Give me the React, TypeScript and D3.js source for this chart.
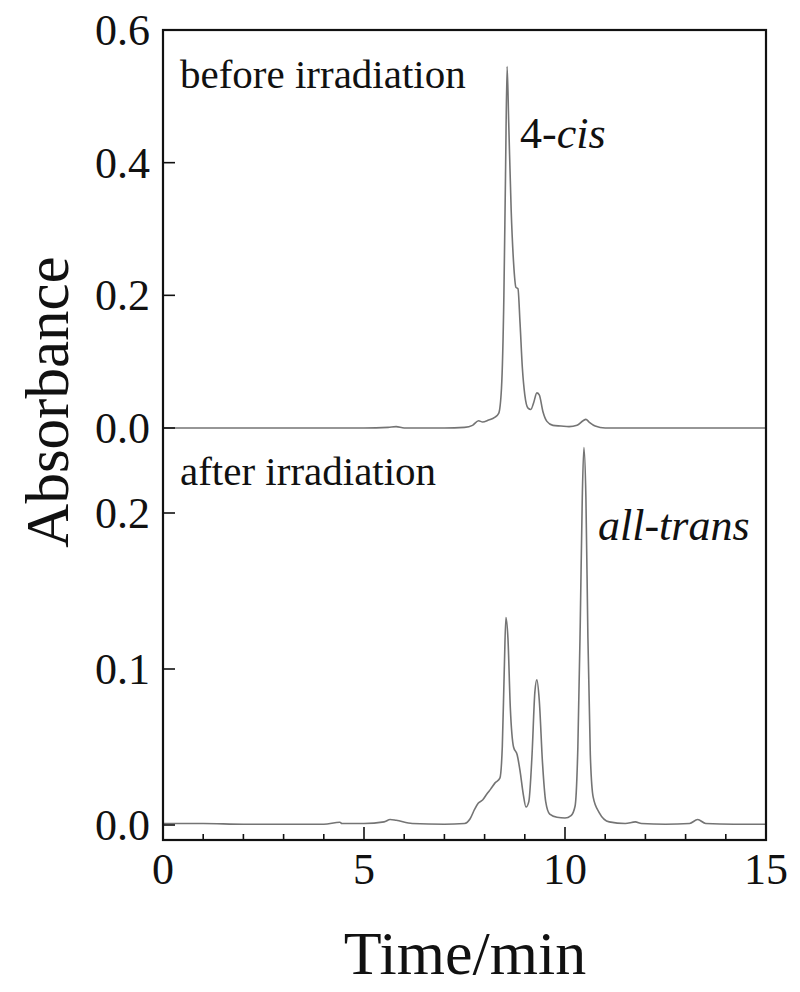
import React from 'react';
import * as d3 from 'd3';

// Chromatogram before irradiation (time in min, absorbance)
const beforeTime = [0, 1, 2, 3, 4, 5, 5.6, 5.8, 6.0, 7.0, 7.5, 7.7, 7.85, 7.95, 8.1, 8.25, 8.35, 8.42, 8.48, 8.52, 8.56, 8.6, 8.66, 8.72, 8.78, 8.83, 8.88, 8.94, 9.0, 9.08, 9.15, 9.22, 9.3, 9.36, 9.45, 9.55, 9.7, 9.9, 10.1, 10.3, 10.45, 10.52, 10.6, 10.75, 11, 12, 13, 14, 15];
const beforeAbs = [0, 0, 0, 0, 0, 0, 0.001, 0.002, 0, 0, 0.001, 0.004, 0.011, 0.009, 0.012, 0.016, 0.022, 0.06, 0.2, 0.38, 0.545, 0.46, 0.33, 0.25, 0.212, 0.21, 0.16, 0.09, 0.05, 0.03, 0.028, 0.038, 0.053, 0.05, 0.025, 0.01, 0.004, 0.003, 0.002, 0.004, 0.011, 0.013, 0.009, 0.003, 0, 0, 0, 0, 0];

// Chromatogram after irradiation
const afterTime = [0, 1, 2, 3, 4, 4.4, 4.45, 4.55, 5.0, 5.5, 5.65, 5.8, 6.2, 7.0, 7.5, 7.64, 7.75, 7.84, 7.95, 8.06, 8.15, 8.26, 8.38, 8.44, 8.49, 8.53, 8.58, 8.64, 8.72, 8.81, 8.88, 8.96, 9.03, 9.1, 9.18, 9.25, 9.3, 9.36, 9.44, 9.52, 9.62, 9.8, 10.0, 10.15, 10.25, 10.32, 10.38, 10.43, 10.47, 10.52, 10.57, 10.63, 10.7, 10.85, 11.1, 11.5, 11.75, 11.9, 12.5, 13.1, 13.3, 13.5, 14.2, 15];
const afterAbs = [0.001, 0.001, 0.0005, 0.0005, 0.0005, 0.0018, 0.001, 0.001, 0.001, 0.002, 0.0035, 0.003, 0.001, 0.0005, 0.001, 0.004, 0.01, 0.014, 0.016, 0.02, 0.023, 0.027, 0.03, 0.05, 0.1, 0.133, 0.12, 0.075, 0.05, 0.045, 0.035, 0.02, 0.0115, 0.015, 0.045, 0.085, 0.093, 0.08, 0.04, 0.015, 0.007, 0.005, 0.0045, 0.006, 0.012, 0.05, 0.13, 0.21, 0.242, 0.21, 0.12, 0.045, 0.018, 0.008, 0.002, 0.001, 0.002, 0.001, 0.0005, 0.001, 0.0035, 0.001, 0.0005, 0.0005];

const xTicks = [0, 5, 10, 15];
const xMinorTicks = d3.range(0, 16, 1);
const topTicks = [0.0, 0.2, 0.4, 0.6];
const bottomTicks = [0.0, 0.1, 0.2];

const W = 800;
const H = 992;
const left = 163;
const right = 766;
const top = 30;
const split = 428;
const bottom = 840;

const serif = '"Liberation Serif", "Times New Roman", serif';

const App = () => {
  const x = d3.scaleLinear().domain([0, 15]).range([left, right]);
  const yTop = d3.scaleLinear().domain([0, 0.6]).range([split, top]);
  const yBot = d3.scaleLinear().domain([0, 0.1]).range([825, 669]);

  const topLine = d3.line<number>()
    .x((d, i) => x(beforeTime[i]))
    .y(d => yTop(d))
    .curve(d3.curveMonotoneX);
  const botLine = d3.line<number>()
    .x((d, i) => x(afterTime[i]))
    .y(d => yBot(d))
    .curve(d3.curveMonotoneX);

  return (
    <svg width={W} height={H} style={{ display: 'block', margin: '-8px' }} fontFamily={serif}>
      <rect width={W} height={H} fill="#fff" />
      <defs>
        <clipPath id="plot">
          <rect x={left} y={top} width={right - left} height={bottom - top} />
        </clipPath>
      </defs>

      {/* traces */}
      <g clipPath="url(#plot)" fill="none" stroke="#747474" strokeWidth={1.6}>
        <path d={topLine(beforeAbs) || ''} />
        <path d={botLine(afterAbs) || ''} />
      </g>

      {/* frame */}
      <rect x={left} y={top} width={right - left} height={bottom - top} fill="none" stroke="#111" strokeWidth={2.2} />

      {/* x ticks */}
      {xMinorTicks.map(t => (
        <line key={'m' + t} x1={x(t)} x2={x(t)} y1={bottom} y2={bottom - (t % 5 === 0 ? 13 : 6)} stroke="#111" strokeWidth={1.6} />
      ))}
      {xTicks.map(t => (
        <text key={'xl' + t} x={x(t)} y={884} fontSize={44} textAnchor="middle" fill="#111">{t}</text>
      ))}

      {/* y ticks top panel */}
      {topTicks.map(t => (
        <g key={'yt' + t}>
          <line x1={left} x2={left + 12} y1={yTop(t)} y2={yTop(t)} stroke="#111" strokeWidth={1.6} />
          <text x={150} y={yTop(t) + 15} fontSize={44} textAnchor="end" fill="#111">{t.toFixed(1)}</text>
        </g>
      ))}
      {/* y ticks bottom panel */}
      {bottomTicks.map(t => (
        <g key={'yb' + t}>
          <line x1={left} x2={left + 12} y1={yBot(t)} y2={yBot(t)} stroke="#111" strokeWidth={1.6} />
          <text x={150} y={yBot(t) + 15} fontSize={44} textAnchor="end" fill="#111">{t.toFixed(1)}</text>
        </g>
      ))}

      {/* annotations */}
      <text x={180} y={88} fontSize={41} fill="#111">before irradiation</text>
      <text x={180} y={485} fontSize={41} fill="#111">after irradiation</text>
      <text x={520} y={148} fontSize={44} fill="#111">4-<tspan fontStyle="italic">cis</tspan></text>
      <text x={598} y={540} fontSize={44} fill="#111" fontStyle="italic">all-trans</text>

      {/* axis titles */}
      <text transform="translate(68,402) rotate(-90)" fontSize={61} textAnchor="middle" fill="#111">Absorbance</text>
      <text x={465} y={974} fontSize={62} textAnchor="middle" fill="#111">Time/min</text>
    </svg>
  );
};

export default App;
